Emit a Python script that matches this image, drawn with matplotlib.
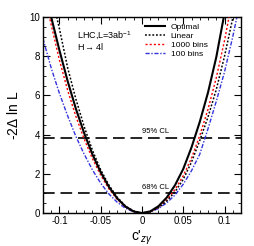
import matplotlib
matplotlib.use("Agg")
import matplotlib.pyplot as plt
from matplotlib.ticker import MultipleLocator

plt.rcParams['font.family'] = ['Liberation Sans', 'DejaVu Sans']
plt.rcParams['mathtext.fontset'] = 'custom'
plt.rcParams['mathtext.rm'] = 'Liberation Sans'
plt.rcParams['mathtext.it'] = 'Liberation Sans:italic'

x = [-0.12, -0.11, -0.10, -0.09, -0.08, -0.07, -0.06, -0.05, -0.04, -0.03, -0.02, -0.01,
     0.0, 0.01, 0.02, 0.03, 0.04, 0.05, 0.06, 0.07, 0.08, 0.09, 0.10, 0.11, 0.12]
optimal = [12.0, 10.0, 8.3, 6.72, 5.31, 4.07, 2.99, 2.08, 1.33, 0.75, 0.33, 0.08,
           0.0, 0.085, 0.35, 0.79, 1.42, 2.25, 3.35, 4.65, 6.15, 7.95, 10.2, 12.4, 14.8]
linear = [13.3, 11.2, 9.4, 7.4, 5.8, 4.4, 3.2, 2.2, 1.42, 0.8, 0.36, 0.09,
          0.0, 0.065, 0.27, 0.61, 1.08, 1.72, 2.6, 3.7, 4.9, 6.3, 8.0, 9.95, 12.0]
bins1000 = [11.5, 9.6, 7.8, 6.25, 4.92, 3.77, 2.77, 1.93, 1.23, 0.7, 0.31, 0.08,
            0.0, 0.07, 0.3, 0.67, 1.2, 1.9, 2.8, 3.95, 5.3, 6.9, 8.8, 11.0, 13.3]
bins100 = [8.9, 7.4, 6.1, 4.95, 3.9, 3.0, 2.2, 1.52, 0.97, 0.55, 0.24, 0.06,
           0.0, 0.06, 0.23, 0.52, 0.92, 1.47, 2.16, 3.0, 4.3, 5.7, 7.2, 9.0, 11.0]
cl_levels = [3.84, 1.0]
cl_labels = ["95% CL", "68% CL"]

fig = plt.figure(figsize=(2.54, 2.46), dpi=100)
ax = fig.add_axes([0.169, 0.134, 0.780, 0.797])

ax.plot(x, optimal, color='black', lw=1.5, label='Optimal', zorder=5)
ax.plot(x, linear, color='black', lw=1.1, ls=(0, (1.2, 1.2)), label='Linear', zorder=4)
ax.plot(x, bins1000, color='red', lw=1.0, ls=(0, (1.5, 1.5)), label='1000 bins', zorder=3)
ax.plot(x, bins100, color='#3333dd', lw=1.0, ls=(0, (3, 1.2, 1, 1.2)), label='100 bins', zorder=2)

for lev, lab in zip(cl_levels, cl_labels):
    ax.axhline(lev, color='black', lw=1.2, ls=(0, (7, 3.5)), zorder=1)
    ax.text(0.0005, lev + 0.12, lab, fontsize=5.5, ha='left', va='bottom')

ax.set_xlim(-0.12, 0.12)
ax.set_ylim(0, 10)
ax.xaxis.set_major_locator(MultipleLocator(0.05))
ax.xaxis.set_minor_locator(MultipleLocator(0.01))
ax.yaxis.set_major_locator(MultipleLocator(2))
ax.yaxis.set_minor_locator(MultipleLocator(0.5))
ax.set_xticks([-0.1, -0.05, 0, 0.05, 0.1])
ax.set_xticklabels(['-0.1', '-0.05', '0', '0.05', '0.1'])
ax.tick_params(which='both', direction='in', top=True, right=True, labelsize=7, pad=2)
ax.tick_params(which='major', length=5, width=0.8)
ax.tick_params(which='minor', length=2.5, width=0.6)
for s in ax.spines.values():
    s.set_linewidth(1.0)

ax.set_ylabel(r'-2$\Delta$ ln L', fontsize=10, labelpad=6)
ax.set_xlabel(r"c'$_{z\gamma}$", fontsize=10, labelpad=2)

ax.text(0.173, 0.905, r'LHC,L=3ab$^{-1}$', transform=ax.transAxes, fontsize=6.5, va='center', ha='left')
ax.text(0.173, 0.847, r'H$\rightarrow$4l', transform=ax.transAxes, fontsize=6.5, va='center', ha='left')

leg = ax.legend(loc='upper left', bbox_to_anchor=(0.49, 0.995), fontsize=6, frameon=False,
                handlelength=2.4, labelspacing=0.15, handletextpad=0.7, borderaxespad=0.2)

fig.savefig('out.png', dpi=100)
